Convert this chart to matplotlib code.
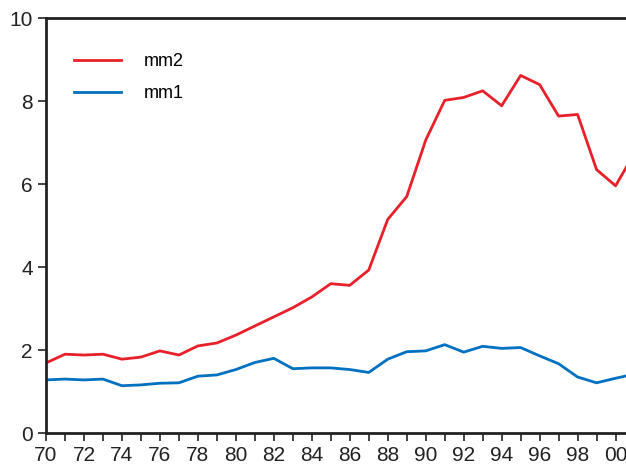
import matplotlib.pyplot as plt
from matplotlib.ticker import MultipleLocator, FuncFormatter

plt.rcParams['font.family'] = ['Liberation Sans', 'DejaVu Sans']

years = list(range(1970, 2002))
mm2 = [1.69, 1.90, 1.88, 1.90, 1.78, 1.83, 1.98, 1.88, 2.10, 2.17,
       2.36, 2.58, 2.80, 3.02, 3.28, 3.60, 3.56, 3.93, 5.15, 5.70,
       7.06, 8.02, 8.09, 8.25, 7.89, 8.62, 8.40, 7.64, 7.68, 6.35,
       5.96, 6.75]
mm1 = [1.28, 1.30, 1.28, 1.30, 1.14, 1.16, 1.20, 1.21, 1.37, 1.40,
       1.53, 1.70, 1.80, 1.55, 1.57, 1.57, 1.53, 1.46, 1.78, 1.96,
       1.98, 2.13, 1.95, 2.09, 2.04, 2.06, 1.86, 1.67, 1.35, 1.21,
       1.32, 1.42]

fig = plt.figure(figsize=(6.26, 4.65), dpi=100)
ax = fig.add_axes([0.0735, 0.0688, 0.9265, 0.892])

ax.plot(years, mm2, color='#e8202a', lw=2, label='mm2')
ax.plot(years, mm1, color='#0070c0', lw=2, label='mm1')

ax.set_xlim(1970, 2000.55)
ax.set_ylim(0, 10)

ax.xaxis.set_major_locator(MultipleLocator(2))
ax.xaxis.set_minor_locator(MultipleLocator(1))
ax.xaxis.set_major_formatter(FuncFormatter(lambda v, p: '%02d' % (int(round(v)) % 100)))
ax.yaxis.set_major_locator(MultipleLocator(2))

ax.tick_params(axis='both', which='both', direction='out', length=6, width=1.2,
               labelsize=15, colors='#222222')
ax.tick_params(axis='x', pad=3)

for s in ['left', 'bottom', 'top']:
    ax.spines[s].set_linewidth(2)
    ax.spines[s].set_color('#222222')
ax.spines['right'].set_visible(False)

leg = ax.legend(loc='upper left', bbox_to_anchor=(0.02, 0.955), frameon=False,
                fontsize=13, handlelength=2.6, handletextpad=1.3, labelspacing=0.85)

fig.savefig('out.png')
